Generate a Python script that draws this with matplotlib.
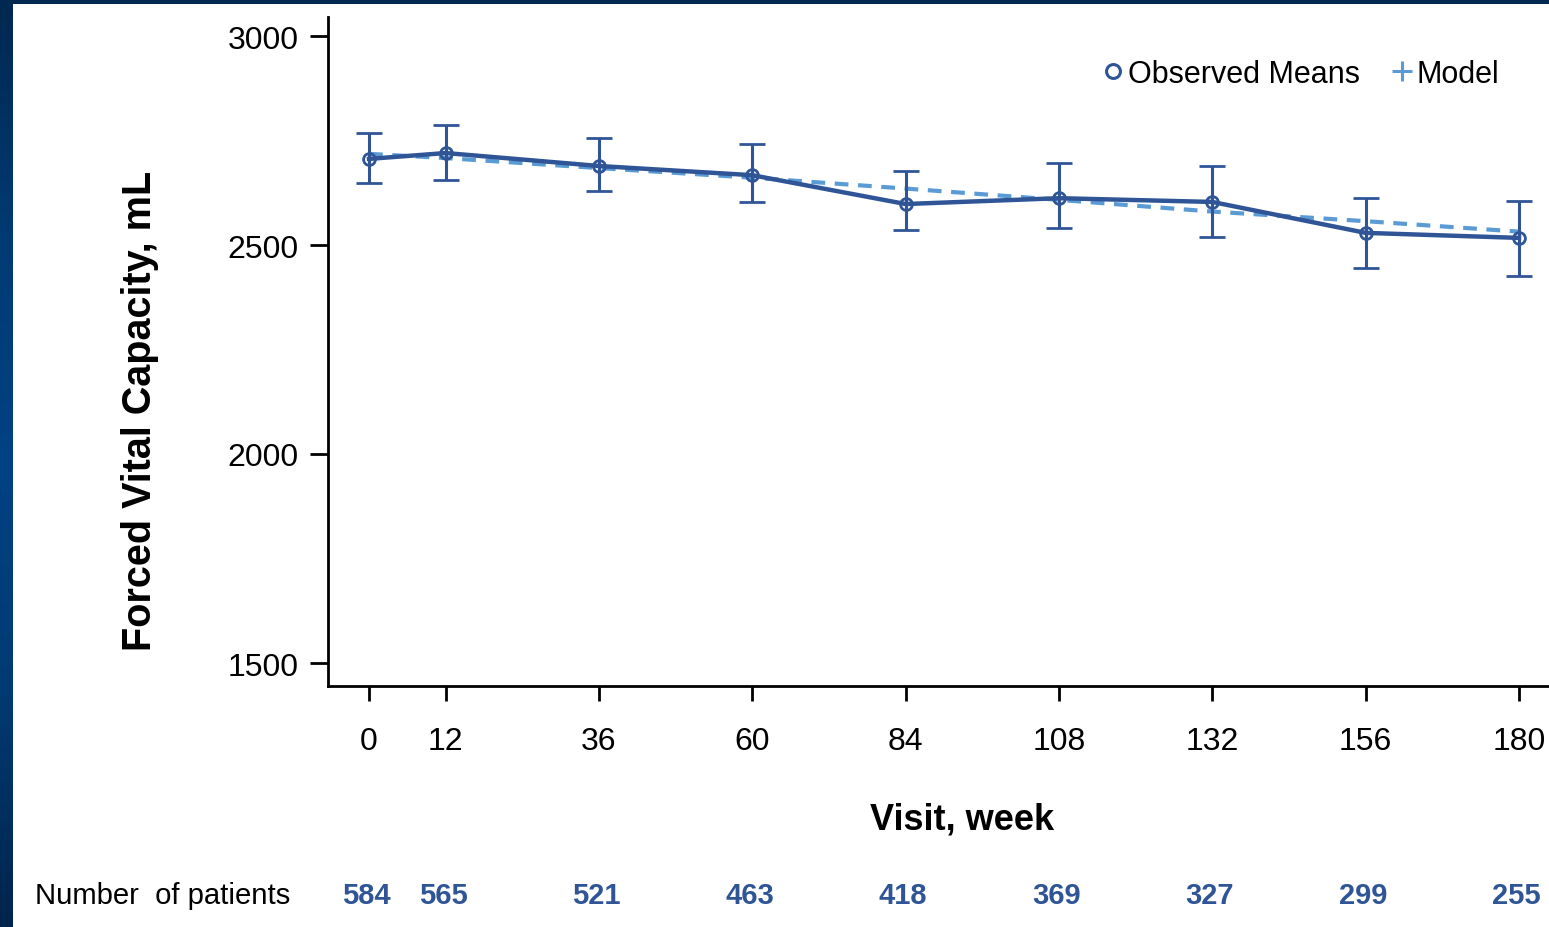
import numpy as np
import matplotlib
matplotlib.use("Agg")
import matplotlib.pyplot as plt
from matplotlib.lines import Line2D
from matplotlib.colors import LinearSegmentedColormap
import matplotlib.transforms as mtransforms

# ---- data ----
weeks = [0, 12, 36, 60, 84, 108, 132, 156, 180]
obs_mean = [2706, 2720, 2689, 2667, 2598, 2612, 2603, 2529, 2517]
obs_upper = [2768, 2787, 2756, 2742, 2677, 2696, 2689, 2612, 2605]
obs_lower = [2648, 2656, 2629, 2603, 2536, 2541, 2519, 2445, 2426]
model = [2718, 2708, 2684, 2661, 2635, 2608, 2580, 2557, 2532]
n_patients = [584, 565, 521, 463, 418, 369, 327, 299, 255]
yticks = [1500, 2000, 2500, 3000]

DARK = "#2F5597"
LIGHT = "#5B9BD5"

plt.rcParams['font.family'] = ['Liberation Sans', 'DejaVu Sans']

W, H = 1549, 928
fig = plt.figure(figsize=(W / 100, H / 100), dpi=100)

# background frame gradient
bg = fig.add_axes([0, 0, 1, 1], zorder=-10)
cmap = LinearSegmentedColormap.from_list(
    "frame", ["#002850", "#003A72", "#004284", "#003A72", "#00244C"])
grad = np.linspace(0, 1, 256).reshape(-1, 1)
bg.imshow(grad, aspect='auto', cmap=cmap, extent=[0, 1, 0, 1], origin='upper')
bg.add_patch(plt.Rectangle((13 / W, 0), 1 - 13 / W, 1 - 5 / H,
                           facecolor='white', edgecolor='none',
                           transform=bg.transAxes))
bg.set_xlim(0, 1)
bg.set_ylim(0, 1)
bg.axis('off')

# main axes
left, right = 328 / W, 1.0
bottom, top = 1 - 687 / H, 1 - 18 / H
ax = fig.add_axes([left, bottom, right - left, top - bottom])
ax.set_facecolor('none')

x_per_week = (1519 - 369) / 180.0
xmin = -(369 - 328) / x_per_week
xmax = 180 + (W - 1519) / x_per_week
ax.set_xlim(xmin, xmax)
y_per_unit = (664 - 37) / 1500.0
ax.set_ylim(1500 - (687 - 664) / y_per_unit, 3000 + (37 - 18) / y_per_unit)

# model dashed
ax.plot(weeks, model, color=LIGHT, lw=3.0, linestyle=(0, (3.3, 2.3)), zorder=2)

# observed with error bars
yerr = [np.array(obs_mean) - np.array(obs_lower),
        np.array(obs_upper) - np.array(obs_mean)]
ax.errorbar(weeks, obs_mean, yerr=yerr, color=DARK, lw=3.2,
            elinewidth=2.2, capsize=9.5, capthick=2.2,
            marker='o', ms=8.5, mfc='none', mec=DARK, mew=2.0, zorder=3)

for s in ['top', 'right']:
    ax.spines[s].set_visible(False)
for s in ['left', 'bottom']:
    ax.spines[s].set_linewidth(2.0)
    ax.spines[s].set_color('black')

ax.set_xticks(weeks)
ax.set_xticklabels([str(w) for w in weeks])
ax.set_yticks(yticks)
ax.set_yticklabels([str(v) for v in yticks])
ax.tick_params(axis='x', length=11, width=2, pad=18, labelsize=23,
               direction='out', colors='black')
ax.tick_params(axis='y', length=13, width=2, pad=8, labelsize=23,
               direction='out', colors='black')

# axis labels
fig.text(962 / W, 1 - 820 / H, "Visit, week", ha='center', va='center',
         fontsize=26, fontweight='bold')
fig.text(140 / W, 1 - 411 / H, "Forced Vital Capacity, mL", ha='center',
         va='center', rotation=90, fontsize=28.5, fontweight='bold')

# legend
handles = [Line2D([], [], linestyle='none', marker='o', ms=10, mfc='none',
                  mec=DARK, mew=2.2),
           Line2D([], [], linestyle='none', marker='+', ms=14, mec=LIGHT,
                  mew=2.2)]
ax.legend(handles, ["Observed Means", "Model"], ncol=2, frameon=False,
          loc='center right', bbox_to_anchor=(1499 / W, 1 - 75 / H),
          bbox_transform=fig.transFigure, fontsize=22, handlelength=0.55,
          handletextpad=0.2, columnspacing=1.1, borderaxespad=0,
          borderpad=0)

# patient numbers
fig.text(35 / W, 1 - 896 / H, "Number  of patients", ha='left', va='center',
         fontsize=21.1)
trans = mtransforms.blended_transform_factory(ax.transData, fig.transFigure)
for w, n in zip(weeks, n_patients):
    ax.text(w - 0.4, 1 - 896 / H, str(n), transform=trans, ha='center',
            va='center', fontsize=21, fontweight='bold', color=DARK,
            clip_on=False)

fig.savefig("out.png", dpi=100)
